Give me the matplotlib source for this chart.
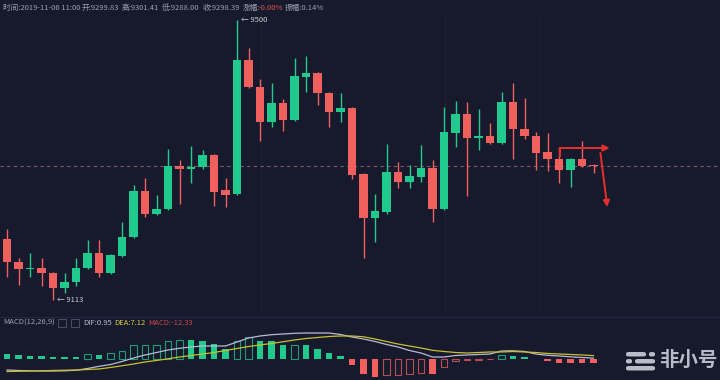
import matplotlib
matplotlib.use('Agg')
import matplotlib.pyplot as plt
from matplotlib.patches import Rectangle, FancyBboxPatch
import numpy as np

plt.rcParams['font.family'] = ['Noto Sans CJK SC', 'DejaVu Sans']

# ── 数据 ──
opens = [9197.3, 9165.6, 9155.9, 9157.3, 9150.4, 9129.6, 9137.9, 9157.3, 9178.0, 9150.4,
         9173.8, 9200.1, 9263.7, 9231.9, 9238.8, 9298.2, 9294.1, 9296.8, 9313.4, 9265.1,
         9259.5, 9444.7, 9407.4, 9359.0, 9385.3, 9361.8, 9421.2, 9426.7, 9399.1, 9372.9,
         9378.4, 9287.2, 9226.4, 9234.6, 9289.9, 9276.1, 9283.0, 9295.5, 9238.8, 9343.8,
         9370.1, 9336.9, 9339.7, 9330.0, 9386.7, 9349.4, 9339.7, 9317.6, 9307.9, 9292.7,
         9307.9, 9299.83]
highs = [9211.2, 9171.1, 9178.0, 9171.1, 9151.7, 9150.4, 9171.1, 9195.9, 9195.9, 9176.6,
         9220.8, 9272.0, 9281.6, 9258.1, 9321.7, 9306.5, 9325.9, 9320.3, 9314.8, 9281.6,
         9500.0, 9461.3, 9418.5, 9412.9, 9390.8, 9447.5, 9450.2, 9428.1, 9400.5, 9399.1,
         9379.8, 9288.6, 9259.5, 9328.6, 9303.7, 9299.6, 9327.2, 9306.5, 9379.8, 9388.1,
         9386.7, 9377.0, 9357.6, 9400.5, 9412.9, 9392.2, 9345.2, 9343.8, 9324.5, 9309.2,
         9332.8, 9301.41]
lows = [9144.8, 9133.8, 9144.8, 9132.4, 9113.0, 9122.7, 9132.4, 9155.9, 9144.8, 9149.0,
        9172.4, 9198.7, 9227.7, 9230.5, 9237.4, 9245.7, 9274.7, 9294.1, 9242.9, 9241.6,
        9258.1, 9406.0, 9332.8, 9352.1, 9346.6, 9360.4, 9400.5, 9382.5, 9352.1, 9359.0,
        9280.3, 9171.1, 9193.2, 9231.9, 9267.8, 9267.8, 9276.1, 9220.8, 9237.4, 9324.5,
        9256.8, 9320.3, 9328.6, 9328.6, 9307.9, 9335.5, 9292.7, 9291.3, 9274.7, 9269.2,
        9296.8, 9288.00]
closes = [9165.6, 9155.9, 9157.3, 9150.4, 9129.6, 9137.9, 9157.3, 9178.0, 9150.4, 9175.2,
          9200.1, 9263.7, 9231.9, 9238.8, 9298.2, 9294.1, 9296.8, 9313.4, 9262.3, 9258.1,
          9444.7, 9407.4, 9359.0, 9385.3, 9361.8, 9422.6, 9426.7, 9399.1, 9372.9, 9378.4,
          9285.8, 9226.4, 9236.0, 9289.9, 9276.1, 9284.4, 9295.5, 9238.8, 9345.2, 9370.1,
          9336.9, 9339.7, 9330.0, 9386.7, 9349.4, 9339.7, 9316.2, 9307.9, 9292.7, 9307.9,
          9298.2, 9298.39]

macd_hist = [10.6, 9.1, 6.7, 6.7, 4.2, 4.2, 4.2, 9.9, 8.6, 13.1,
             19.0, 32.9, 33.8, 34.1, 42.0, 45.2, 44.5, 43.2, 35.3, 24.7,
             42.0, 53.6, 43.7, 42.0, 32.9, 33.8, 32.9, 24.7, 14.8, 6.7,
             -16.5, -37.1, -46.9, -41.2, -40.8, -38.8, -34.6, -38.8, -22.2, -7.4,
             -4.9, -2.5, -1.7, 8.2, 5.7, 3.2, -1.7, -5.7, -11.6, -11.6,
             -11.6, -12.33]
dif = [-28.4, -29.6, -30.4, -30.9, -30.9, -30.4, -29.1, -24.7, -19.3, -14.8,
       -7.4, 1.2, 8.7, 14.8, 21.0, 25.2, 28.4, 30.9, 30.9, 30.9,
       40.8, 50.6, 55.6, 58.8, 60.5, 62.3, 63.0, 63.0, 63.0, 59.3,
       53.1, 48.2, 42.0, 34.6, 28.4, 19.8, 13.6, 3.7, 3.7, 7.4,
       8.7, 9.9, 11.1, 18.5, 19.0, 17.3, 11.1, 7.9, 6.2, 4.2,
       2.5, 0.95]
dea = [-32.1, -31.6, -30.9, -30.4, -29.6, -28.9, -28.4, -27.2, -25.9, -22.2,
       -18.0, -13.6, -8.6, -4.9, -0.7, 3.7, 7.4, 11.1, 14.8, 19.8,
       24.7, 29.6, 33.4, 37.1, 41.3, 45.7, 49.4, 51.9, 54.3, 55.6,
       55.6, 53.6, 48.2, 42.0, 35.8, 30.9, 25.9, 20.3, 17.3, 14.8,
       13.6, 14.8, 16.1, 16.1, 17.3, 16.1, 14.8, 12.4, 11.1, 9.9,
       8.7, 7.12]

info_items = [("时间:2019-11-06 11:00", 3), ("开:9299.83", 82), ("高:9301.41", 122),
              ("低:9288.00", 162), ("收:9298.39", 203), ("涨幅:", 243), ("振幅:0.14%", 285)]
change_text = "-0.00%"
high_label = "← 9500"
low_label = "← 9113"

# 手绘箭头（索引, 价格）
arrow_h = ((48.1, 9323.1), (52.4, 9323.1))
arrow_tick = ((48.1, 9323.1), (48.1, 9312.0))
arrow_d = ((51.6, 9316.2), (52.2, 9241.6))

BG = '#171a2d'
UP = '#22c98c'
DOWN = '#f0605d'
TXT = '#9a9eab'
W, H = 720, 380


def fx(px):
    return px / W


def fy(py):
    return 1 - py / H


fig = plt.figure(figsize=(7.2, 3.8), dpi=100, facecolor=BG)
x = np.arange(len(closes))
xlim = (-7 / 11.5, (W - 7) / 11.5)

# ── K线主图 ──
ax = fig.add_axes([0, fy(312), 1, 300 / H], facecolor=BG)
ax.set_xlim(*xlim)
ax.set_ylim(9527.64 - 1.382 * 312, 9527.64 - 1.382 * 12)
o = np.array(opens); c = np.array(closes); hi = np.array(highs); lo = np.array(lows)
up = c >= o
colors = np.where(up, UP, DOWN)
ax.vlines(x, lo, hi, colors=colors, linewidth=1.0, zorder=2)
body_h = np.maximum(np.abs(c - o), 1.4)
ax.bar(x, body_h, bottom=np.minimum(o, c), width=0.7, color=colors, linewidth=0, zorder=3)
ax.axhline(closes[-1], color='#8a5568', linestyle=(0, (3, 3)), linewidth=0.8, zorder=1)
for gx in [22.1, 38.1, 46.3]:
    ax.axvline(gx, color='#1c2034', linewidth=0.8, zorder=0)

i_hi = int(np.argmax(hi)); i_lo = int(np.argmin(lo))
ax.text(i_hi + 0.35, hi[i_hi], high_label, color='#c9cbd3', fontsize=5.5,
        va='center', ha='left', family=['Noto Sans CJK SC', 'DejaVu Sans'])
ax.text(i_lo + 0.35, lo[i_lo], low_label, color='#c9cbd3', fontsize=5.5,
        va='center', ha='left', family=['Noto Sans CJK SC', 'DejaVu Sans'])

ar = dict(arrowstyle='-|>', color='#e8302a', lw=1.4, mutation_scale=9, shrinkA=0, shrinkB=0)
ax.annotate('', xy=arrow_h[1], xytext=arrow_h[0], arrowprops=ar, zorder=5)
ax.annotate('', xy=arrow_d[1], xytext=arrow_d[0], arrowprops=ar, zorder=5)
ax.plot(*zip(*arrow_tick), color='#e8302a', lw=1.4, zorder=5)
ax.axis('off')

# ── MACD 副图 ──
ax2 = fig.add_axes([0, 0, 1, 50 / H], facecolor=BG)
ax2.set_xlim(*xlim)
zero_px = 358.5
ax2.set_ylim(-(380 - zero_px) * 2.47, (zero_px - 330) * 2.47)
hist = np.array(macd_hist)
rising = np.r_[False, hist[1:] > hist[:-1]]
for i, v in enumerate(hist):
    col = UP if v >= 0 else DOWN
    if rising[i]:
        ax2.bar(i, v, width=0.6, facecolor='none', edgecolor=col, linewidth=0.8, alpha=0.75)
    else:
        ax2.bar(i, v, width=0.6, color=col, linewidth=0)
ax2.plot(x, dif, color='#b9b9d6', linewidth=0.9)
ax2.plot(x, dea, color='#c8bf2e', linewidth=0.9)
ax2.axis('off')

fig.add_artist(plt.Line2D([0, 1], [fy(317), fy(317)], color='#232740', linewidth=0.8))

# ── 顶部信息 ──
for s, px in info_items:
    fig.text(fx(px), fy(8), s, color=TXT, fontsize=5.5, va='center', ha='left')
fig.text(fx(259), fy(8), change_text, color='#d9534f', fontsize=5.5, va='center', ha='left')

fig.text(fx(3), fy(323), "MACD(12,26,9)", color=TXT, fontsize=5.5, va='center', ha='left')
for bx in (58, 71):
    fig.add_artist(Rectangle((fx(bx), fy(327)), fx(8), 8 / H, transform=fig.transFigure,
                             facecolor='none', edgecolor='#4a4e62', linewidth=0.7))
fig.text(fx(83), fy(323), "DIF:0.95", color='#b9bcc8', fontsize=5.5, va='center', ha='left')
fig.text(fx(114), fy(323), "DEA:7.12", color='#d4cb3a', fontsize=5.5, va='center', ha='left')
fig.text(fx(148), fy(323), "MACD:-12.33", color='#c9464a', fontsize=5.5, va='center', ha='left')

# ── 水印 ──
for (bx, by, bw) in [(626, 352, 20), (649, 352, 6), (626, 359, 6), (635, 359, 20), (626, 366, 29)]:
    fig.add_artist(FancyBboxPatch((fx(bx), fy(by + 4.5)), fx(bw), 4.5 / H, transform=fig.transFigure,
                                  boxstyle='round,pad=0,rounding_size=0.004',
                                  facecolor='#b8bcc6', edgecolor='none'))
fig.text(fx(659), fy(360), "非小号", color='#b8bcc6', fontsize=14, fontweight='bold',
         va='center', ha='left')

fig.savefig('out.png', dpi=100, facecolor=BG)
